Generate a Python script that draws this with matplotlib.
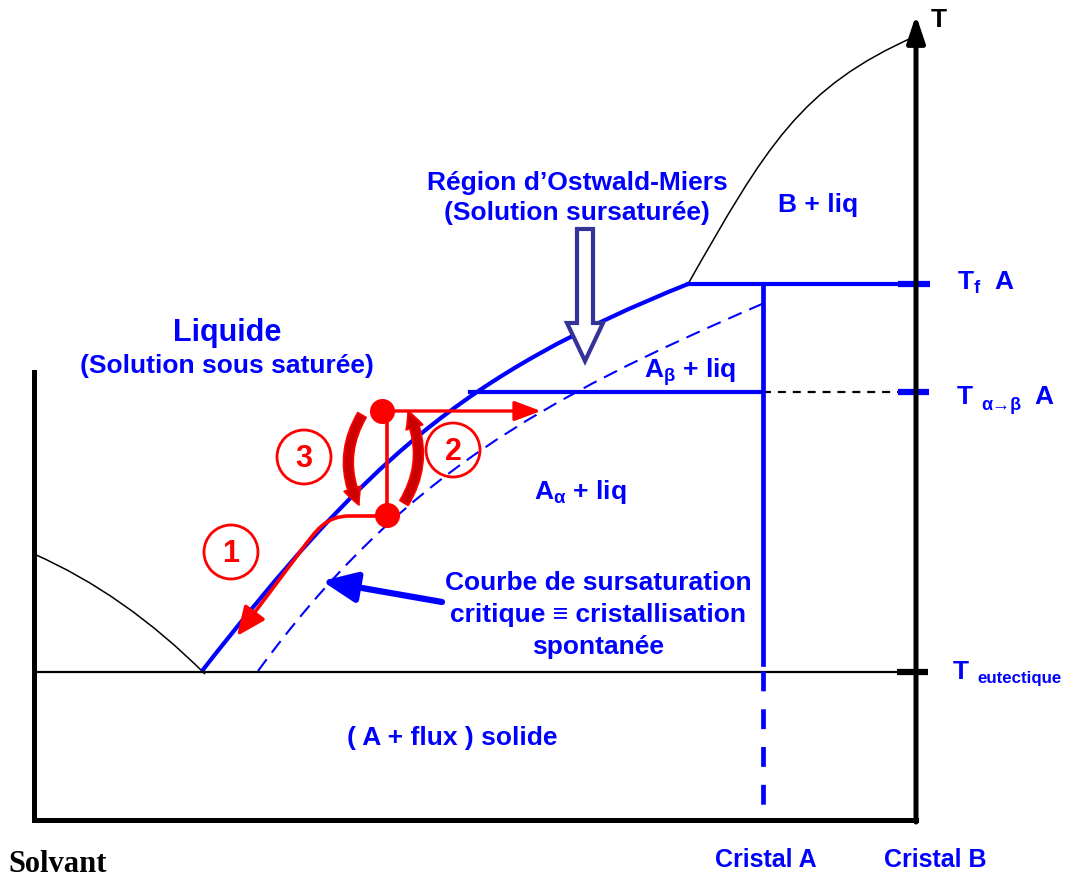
import os

os.environ.setdefault("MPLBACKEND", "Agg")
import matplotlib.pyplot as plt
from matplotlib.patches import Circle, FancyArrow, FancyArrowPatch, PathPatch
from matplotlib.path import Path

plt.rcParams["font.family"] = ["Liberation Sans", "DejaVu Sans"]
plt.rcParams["font.weight"] = "bold"
plt.rcParams["mathtext.fontset"] = "custom"
plt.rcParams["mathtext.rm"] = "Liberation Sans:bold"
plt.rcParams["mathtext.it"] = "Liberation Sans:bold"
plt.rcParams["mathtext.bf"] = "Liberation Sans:bold"

BLUE = "#0000ff"
RED = "#ff0000"
DARKRED = "#cc0000"
NAVY = "#333399"

# schematic coordinates (pixel space of the original drawing, y downwards)
X_SOLVENT = 34
X_CRISTAL_A = 763
X_CRISTAL_B = 916
Y_BOTTOM = 821
Y_LEFT_TOP = 373
Y_AXIS_TIP = 16
T_FUSION = 285
T_TRANSITION = 393
T_EUTECTIC = 673
X_TRANSITION_START = 470

# bezier curves: start, control 1, control 2, end
liquidus_a = [(202, 672), (364, 465), (461, 376), (688, 285)]
sursaturation = [(258, 672), (400, 478), (542, 400), (762, 305)]
liquidus_b = [(688, 285), (766, 148), (800, 88), (916, 37)]
liquidus_solvent = [(34, 555), (125, 595), (205, 675)]

# red path (1): dot -> along the liquidus, downwards
path_one = [(386, 517), (350, 517), (326, 517), (317, 530), (300, 553), (237, 637)]
dot_top = (382, 412)
dot_bottom = (387, 516)
arrow_two_end = (541, 412)
circle_labels = ["1", "2", "3"]
circle_centres = [(231, 553), (453, 451), (304, 458)]

courbe_lines = ["Courbe de sursaturation", "critique ≡ cristallisation", "spontanée"]
courbe_y = [583, 615, 647]
ostwald_lines = ["Région d’Ostwald-Miers", "(Solution sursaturée)"]
ostwald_y = [183, 213]


def bezier(ax, pts, **kw):
    codes = [Path.MOVETO] + [Path.CURVE4 if len(pts) == 4 else Path.CURVE3] * (len(pts) - 1)
    ax.add_patch(PathPatch(Path(pts, codes), fill=False, **kw))


fig = plt.figure(figsize=(10.67, 8.78), dpi=100)
ax = fig.add_axes([0, 0, 1, 1])
ax.set_xlim(0, 1067)
ax.set_ylim(878, 0)
ax.axis("off")

# frame
ax.plot([X_SOLVENT, X_SOLVENT, X_CRISTAL_B], [Y_LEFT_TOP, Y_BOTTOM, Y_BOTTOM],
        color="black", lw=3.6, solid_joinstyle="miter")
ax.annotate("", xy=(X_CRISTAL_B, Y_AXIS_TIP), xytext=(X_CRISTAL_B, Y_BOTTOM + 2),
            arrowprops=dict(arrowstyle="-|>,head_width=0.3,head_length=0.9", lw=3.6,
                            color="black", shrinkA=0, shrinkB=0, mutation_scale=18))
ax.text(931, 20, "T", fontsize=19, color="black", va="center", ha="left")

# eutectic line + tick
ax.plot([X_SOLVENT, X_CRISTAL_B], [T_EUTECTIC, T_EUTECTIC], color="black", lw=1.6)
ax.plot([897, 928], [T_EUTECTIC, T_EUTECTIC], color="black", lw=4.5, solid_capstyle="butt")

# curves
bezier(ax, liquidus_solvent, color="black", lw=1.1)
bezier(ax, liquidus_b, color="black", lw=1.1)
bezier(ax, liquidus_a, color=BLUE, lw=3.0)
bezier(ax, sursaturation, color=BLUE, lw=1.5, linestyle=(0, (7, 4)))

# horizontal levels
ax.plot([688, 898], [T_FUSION, T_FUSION], color=BLUE, lw=3.0)
ax.plot([898, 930], [T_FUSION, T_FUSION], color=BLUE, lw=4.5, solid_capstyle="butt")
ax.plot([X_TRANSITION_START, X_CRISTAL_A], [T_TRANSITION, T_TRANSITION], color=BLUE, lw=3.0)
ax.plot([X_CRISTAL_A, 898], [T_TRANSITION, T_TRANSITION], color="black", lw=1.6,
        linestyle=(0, (3.6, 3.1)))
ax.plot([898, 929], [T_TRANSITION, T_TRANSITION], color=BLUE, lw=4.5, solid_capstyle="butt")

# vertical line for Cristal A
ax.plot([X_CRISTAL_A, X_CRISTAL_A], [T_FUSION, 665], color=BLUE, lw=3.4)
ax.plot([X_CRISTAL_A, X_CRISTAL_A], [672, 808], color=BLUE, lw=3.4,
        linestyle=(0, (4.2, 3.8)), solid_capstyle="butt")

# red process
codes = [Path.MOVETO, Path.LINETO, Path.CURVE4, Path.CURVE4, Path.CURVE4, Path.LINETO]
ax.add_patch(FancyArrowPatch(path=Path(path_one, codes),
                             arrowstyle="-|>,head_width=0.35,head_length=0.8",
                             mutation_scale=22, color=RED, lw=2.6))
ax.plot([dot_bottom[0], dot_bottom[0]], [dot_top[1], dot_bottom[1]], color=RED, lw=2.6)
ax.annotate("", xy=arrow_two_end, xytext=dot_top,
            arrowprops=dict(arrowstyle="-|>,head_width=0.3,head_length=0.8", lw=2.4,
                            color=RED, shrinkA=0, shrinkB=0, mutation_scale=20))
ax.plot(*zip(dot_top, dot_bottom), linestyle="none", marker="o", ms=17, color=RED)

crescent = "simple,head_width=0.9,head_length=0.9,tail_width=0.5"
ax.add_patch(FancyArrowPatch((362, 416), (359, 506), connectionstyle="arc3,rad=0.27",
                             arrowstyle=crescent, mutation_scale=14, fc=DARKRED, ec=RED,
                             lw=1.2, shrinkA=0, shrinkB=0))
ax.add_patch(FancyArrowPatch((404, 504), (408, 412), connectionstyle="arc3,rad=0.27",
                             arrowstyle=crescent, mutation_scale=14, fc=DARKRED, ec=RED,
                             lw=1.2, shrinkA=0, shrinkB=0))

for label, (cx, cy) in zip(circle_labels, circle_centres):
    ax.add_patch(Circle((cx, cy), 27, fill=False, ec=RED, lw=2.0))
    ax.text(cx, cy + 1, label, color=RED, fontsize=22, ha="center", va="center")

# hollow arrow (Ostwald-Miers region)
ax.add_patch(FancyArrow(585, 230, 0, 132, width=16, head_width=36, head_length=38,
                        length_includes_head=True, fc="white", ec=NAVY, lw=3))

# arrow to the critical curve
ax.annotate("", xy=(322, 582), xytext=(442, 603),
            arrowprops=dict(arrowstyle="-|>,head_width=0.35,head_length=0.8", lw=4.5,
                            color=BLUE, shrinkA=0, shrinkB=0, mutation_scale=26))

# texts
txt = dict(color=BLUE, ha="center", va="center")
ax.text(227, 333, "Liquide", fontsize=22, **txt)
ax.text(227, 366, "(Solution sous saturée)", fontsize=19, **txt)
for line, y in zip(ostwald_lines, ostwald_y):
    ax.text(577, y, line, fontsize=19, **txt)
ax.text(818, 205, "B + liq", fontsize=19, **txt)
ax.text(690, 372, r"A$_{β}$ + liq", fontsize=19, **txt)
ax.text(580, 492, r"A$_{α}$ + liq", fontsize=19, **txt)
for line, y in zip(courbe_lines, courbe_y):
    ax.text(598, y, line, fontsize=19, **txt)
ax.text(452, 738, "( A + flux ) solide", fontsize=19, **txt)
ax.text(766, 860, "Cristal A", fontsize=18, **txt)
ax.text(935, 860, "Cristal B", fontsize=18, **txt)

side = dict(color=BLUE, ha="left", va="center")
ax.text(957, 283, r"T$_{f}$  A", fontsize=19, **side)
ax.text(957, 397, "T", fontsize=19, **side)
ax.text(981, 406, "α→β", fontsize=13, **side)
ax.text(1034, 397, "A", fontsize=19, **side)
ax.text(953, 672, "T", fontsize=19, **side)
ax.text(977, 679, "eutectique", fontsize=12.2, **side)

ax.text(8, 865, "Solvant", fontsize=22, family="Liberation Serif", color="black",
        ha="left", va="center")

fig.savefig("out.png", dpi=100)
plt.close(fig)
